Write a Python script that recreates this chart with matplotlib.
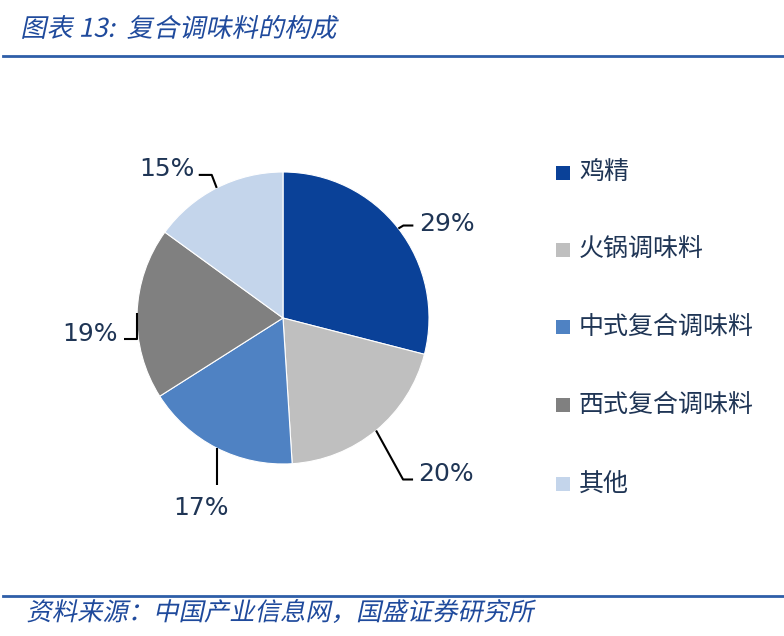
import numpy as np
import matplotlib
matplotlib.use("Agg")
import matplotlib.pyplot as plt
from matplotlib.patches import Rectangle, PathPatch
from matplotlib.textpath import TextPath
from matplotlib.font_manager import FontProperties
from matplotlib.transforms import Affine2D

plt.rcParams['font.family'] = ['Noto Sans CJK SC', 'DejaVu Sans']

# data
categories = ['鸡精', '火锅调味料', '中式复合调味料', '西式复合调味料', '其他']
shares = [29, 20, 17, 19, 15]
pct_labels = ['29%', '20%', '17%', '19%', '15%']
colors = ['#0a4198', '#bfbfbf', '#4f82c3', '#808080', '#c4d5eb']

title = '图表 13:  复合调味料的构成'
source = '资料来源：中国产业信息网，国盛证券研究所'

W, H = 784, 636
fig = plt.figure(figsize=(W / 100, H / 100), dpi=100)
ax = fig.add_axes([0, 0, 1, 1])

cx, cy, r = 283, H - 318, 146
wedges, _ = ax.pie(shares, colors=colors, startangle=90, counterclock=False,
                   center=(cx, cy), radius=r, frame=True,
                   wedgeprops=dict(edgecolor='white', linewidth=0.8))
ax.set_xlim(0, W)
ax.set_ylim(0, H)
ax.axis('off')

# leader lines: (elbow offset, end offset, text offset, ha) in pixels from edge
layout = [
    ((5, 3), (15, 3), (21, 5), 'left'),
    ((27, -49), (37, -49), (42, -44), 'left'),
    ((0, -37), (0, -37), (-16, -60), 'center'),
    ((0, -26), (-13, -26), (-19, -21), 'right'),
    ((-5, 13), (-18, 13), (-22, 19), 'right'),
]
txt_color = '#1f3555'
for w, lab, (e1, e2, t, ha) in zip(wedges, pct_labels, layout):
    ang = np.deg2rad((w.theta1 + w.theta2) / 2)
    x0, y0 = cx + r * np.cos(ang), cy + r * np.sin(ang)
    ax.plot([x0, x0 + e1[0], x0 + e2[0]], [y0, y0 + e1[1], y0 + e2[1]],
            color='black', lw=1.5, solid_capstyle='butt')
    ax.text(x0 + t[0], y0 + t[1], lab, ha=ha, va='center', fontsize=18,
            color=txt_color, family='DejaVu Sans')

# legend
leg_y = [173, 250, 327, 405, 484]
for cat, col, yy in zip(categories, colors, leg_y):
    ax.add_patch(Rectangle((556, H - yy - 7), 14, 14, facecolor=col, edgecolor='none'))
    ax.text(579, H - yy, cat, ha='left', va='center', fontsize=18, color=txt_color)


def slanted_text(s, x0, x1, ytop, ybot, color, skew=12):
    tp = TextPath((0, 0), s, size=24, prop=FontProperties(family='Noto Sans CJK SC'))
    ext = tp.get_extents()
    h = ybot - ytop
    sx = (x1 - x0 - h * np.tan(np.deg2rad(skew))) / ext.width
    sy = h / ext.height
    tr = (Affine2D().translate(-ext.x0, -ext.y0).scale(sx, sy)
          .skew_deg(skew, 0).translate(x0, H - ybot))
    ax.add_patch(PathPatch(tr.transform_path(tp), facecolor=color, edgecolor='none'))


slanted_text(title, 22, 340, 15, 39, '#1f4a9c')
slanted_text(source, 27, 537, 599, 623, '#1f4a9c')

ax.plot([3, W], [H - 56, H - 56], color='#2e5ea8', lw=2)
ax.plot([3, W], [H - 596, H - 596], color='#2e5ea8', lw=2)

fig.savefig('out.png', dpi=100)
